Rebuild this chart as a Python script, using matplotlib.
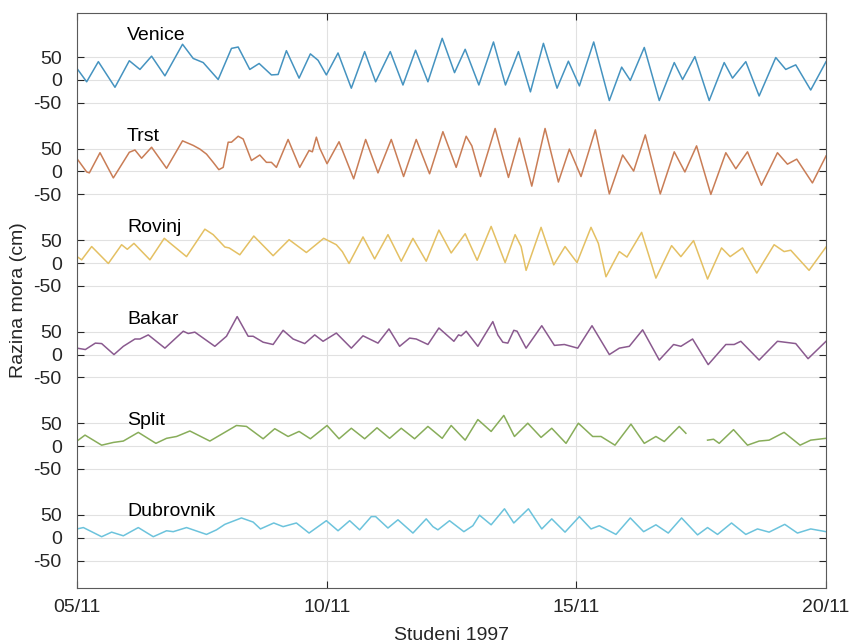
import numpy as np
import matplotlib
matplotlib.use('Agg')
import matplotlib.pyplot as plt

plt.rcParams['font.family'] = ['Liberation Sans', 'DejaVu Sans']

# Postaje, pomak svake krivulje (cm) i boje
stations = ['Venice', 'Trst', 'Rovinj', 'Bakar', 'Split', 'Dubrovnik']
offsets = [1000, 800, 600, 400, 200, 0]
label_heights = [98, 77, 77, 76, 55, 58]
colors = ['#4593c0', '#c97d56', '#e4c063', '#8a5a8f', '#88ad5a', '#6cc3dc']

# Vrijeme u danima od 05/11 00:00, razina mora u cm
venice_t = [0.0, 0.193, 0.427, 0.76, 1.047, 1.26, 1.493, 1.76, 2.113, 2.327, 2.527, 2.827,
            3.093, 3.227, 3.46, 3.647, 3.893, 4.027, 4.193, 4.447, 4.673, 4.827, 4.993, 5.227,
            5.493, 5.76, 5.98, 6.273, 6.527, 6.78, 7.027, 7.313, 7.56, 7.773, 8.047, 8.34,
            8.58, 8.84, 9.08, 9.34, 9.613, 9.84, 10.06, 10.347, 10.66, 10.907, 11.08, 11.36,
            11.66, 11.96, 12.127, 12.373, 12.66, 12.96, 13.127, 13.393, 13.66, 13.993, 14.193,
            14.393, 14.693, 15.0]
venice_cm = [25, -4, 40, -16, 42, 23, 52, 9, 78, 47, 38, 1,
             69, 72, 23, 36, 11, 12, 64, 4, 57, 43, 11, 59,
             -18, 62, -4, 62, -11, 65, -4, 91, 16, 67, -11, 83,
             -11, 62, -26, 80, -18, 41, -13, 83, -45, 28, -1, 71,
             -45, 38, 1, 51, -45, 38, 4, 40, -35, 49, 23,
             33, -22, 40]

trst_t = [0.0, 0.193, 0.247, 0.46, 0.727, 1.047, 1.16, 1.293, 1.493, 1.793, 2.113, 2.327,
          2.46, 2.593, 2.727, 2.84, 2.927, 3.027, 3.093, 3.227, 3.327, 3.493, 3.66, 3.793,
          3.893, 3.993, 4.227, 4.46, 4.647, 4.713, 4.793, 4.86, 5.007, 5.247, 5.54, 5.78,
          6.027, 6.293, 6.54, 6.793, 7.06, 7.327, 7.593, 7.793, 7.907, 8.08, 8.373, 8.64,
          8.86, 9.107, 9.373, 9.64, 9.86, 10.093, 10.38, 10.66, 10.927, 11.147, 11.38, 11.68,
          11.96, 12.173, 12.407, 12.693, 12.993, 13.193, 13.427, 13.707, 14.027, 14.227,
          14.413, 14.727, 15.0]
trst_cm = [28, -1, -3, 41, -14, 42, 47, 29, 53, 7, 67, 57,
           49, 38, 20, 4, 9, 64, 64, 77, 71, 24, 36, 20,
           20, 9, 70, 9, 46, 43, 75, 51, 17, 65, -16, 70,
           -3, 70, -11, 70, -5, 87, 9, 77, 56, -11, 94, -13,
           73, -32, 94, -23, 49, -11, 91, -49, 36, 1, 80, -49,
           43, -1, 56, -50, 41, 6, 43, -30, 41, 16,
           27, -25, 34]

rovinj_t = [0.0, 0.093, 0.293, 0.627, 0.893, 1.007, 1.14, 1.46, 1.747, 2.193, 2.56, 2.727,
            2.96, 3.047, 3.26, 3.54, 3.927, 4.247, 4.593, 4.94, 5.193, 5.313, 5.447, 5.727,
            5.96, 6.227, 6.493, 6.727, 6.993, 7.247, 7.493, 7.773, 8.013, 8.293, 8.573, 8.773,
            8.893, 8.993, 9.293, 9.547, 9.773, 10.013, 10.293, 10.44, 10.593, 10.86, 11.013,
            11.307, 11.593, 11.907, 12.093, 12.347, 12.627, 12.907, 13.08, 13.327, 13.613,
            13.96, 14.16, 14.293, 14.66, 15.0]
rovinj_cm = [14, 7, 36, -1, 40, 30, 43, 7, 54, 14, 74, 62,
             35, 33, 18, 59, 16, 51, 23, 54, 40, 25, -1, 57,
             9, 62, 4, 54, 4, 72, 22, 64, 6, 80, 1, 62,
             36, -16, 78, -4, 36, 1, 78, 43, -30, 25, 13,
             67, -33, 38, 14, 49, -35, 33, 14, 33, -22,
             40, 25, 28, -16, 35]

bakar_t = [0.0, 0.167, 0.367, 0.493, 0.74, 0.927, 1.16, 1.26, 1.427, 1.76, 2.127, 2.227,
           2.36, 2.76, 2.993, 3.207, 3.427, 3.527, 3.727, 3.927, 4.127, 4.327, 4.56, 4.76,
           4.927, 5.193, 5.493, 5.727, 6.027, 6.247, 6.46, 6.66, 6.793, 7.027, 7.247, 7.547,
           7.64, 7.693, 7.793, 8.027, 8.327, 8.427, 8.527, 8.627, 8.747, 8.813, 8.993, 9.307,
           9.56, 9.76, 10.027, 10.313, 10.66, 10.86, 11.06, 11.327, 11.66, 11.947, 12.093,
           12.327, 12.64, 12.993, 13.16, 13.293, 13.66, 14.027, 14.393, 14.64, 15.0]
bakar_cm = [14, 11, 25, 24, 0, 18, 34, 34, 43, 14, 51, 46,
            49, 18, 40, 83, 40, 40, 27, 22, 53, 34, 24, 43,
            29, 47, 14, 41, 25, 56, 18, 36, 34, 22, 58, 29,
            43, 41, 51, 18, 72, 43, 27, 25, 53, 51, 14, 63,
            20, 22, 14, 63, 0, 14, 18, 54, -12, 22, 18,
            34, -22, 22, 22, 29, -12, 29, 24, -9, 29]

split_t = [0.0, 0.16, 0.493, 0.727, 0.927, 1.227, 1.58, 1.793, 1.993, 2.26, 2.66, 3.193,
           3.393, 3.727, 3.96, 4.227, 4.447, 4.673, 5.007, 5.247, 5.493, 5.76, 6.007, 6.26,
           6.493, 6.76, 7.027, 7.313, 7.493, 7.773, 8.027, 8.293, 8.547, 8.76, 9.027, 9.293,
           9.507, 9.793, 10.04, 10.327, 10.493, 10.773, 11.093, 11.36, 11.593, 11.76, 12.06,
           12.193, 12.4, 12.627, 12.747, 12.86, 13.147, 13.427, 13.66, 13.86, 14.16, 14.48,
           14.693, 15.0]
split_cm = [11, 24, 2, 8, 11, 30, 6, 17, 21, 33, 11, 45,
            43, 16, 38, 21, 32, 16, 45, 16, 39, 16, 40, 17,
            39, 16, 43, 17, 45, 13, 58, 32, 67, 21, 50, 19,
            39, 6, 50, 21, 21, 2, 48, 6, 21, 10, 43,
            28, np.nan, 13, 15, 6, 36, 2, 11, 13, 30, 2,
            13, 17]

dubrovnik_t = [0.0, 0.127, 0.493, 0.693, 0.927, 1.227, 1.527, 1.793, 1.927, 2.193, 2.593,
               2.793, 2.96, 3.293, 3.527, 3.673, 3.94, 4.127, 4.393, 4.647, 4.993, 5.227,
               5.46, 5.66, 5.893, 5.98, 6.227, 6.427, 6.727, 6.993, 7.127, 7.227, 7.46, 7.747,
               7.927, 8.06, 8.293, 8.56, 8.747, 9.04, 9.307, 9.507, 9.773, 10.06, 10.293,
               10.46, 10.793, 11.08, 11.347, 11.593, 11.84, 12.107, 12.427, 12.627, 12.827,
               13.107, 13.393, 13.627, 13.86, 14.173, 14.427, 14.693, 15.0]
dubrovnik_cm = [19, 22, 2, 12, 4, 22, 2, 15, 13, 22, 7,
                17, 29, 43, 34, 19, 32, 24, 32, 10, 37, 15,
                37, 17, 46, 46, 21, 39, 10, 41, 24, 17, 37, 13,
                26, 49, 28, 63, 32, 63, 19, 41, 12, 46, 19,
                26, 7, 43, 13, 28, 10, 43, 6, 22, 7,
                32, 7, 19, 12, 29, 10, 19, 13]

series_t = [venice_t, trst_t, rovinj_t, bakar_t, split_t, dubrovnik_t]
series_cm = [venice_cm, trst_cm, rovinj_cm, bakar_cm, split_cm, dubrovnik_cm]

xtick_days = [0, 5, 10, 15]
xtick_labels = ['05/11', '10/11', '15/11', '20/11']
ytick_levels = [-50, 0, 50]


def main():
    fig = plt.figure(figsize=(8.53, 6.44), dpi=100)
    ax = fig.add_axes([0.0903, 0.087, 0.8781, 0.8933])

    for name, off, lh, col, t, cm in zip(stations, offsets, label_heights, colors,
                                          series_t, series_cm):
        ax.plot(t, np.array(cm, dtype=float) + off, color=col, linewidth=1.1,
                solid_joinstyle='round')
        ax.text(1.0, off + lh, name, fontsize=14, color='black', va='center', ha='left')

    yticks = [off + lv for off in offsets for lv in ytick_levels]
    ylabels = [str(lv) for off in offsets for lv in ytick_levels]
    ax.set_yticks(yticks)
    ax.set_yticklabels(ylabels)
    ax.set_xticks(xtick_days)
    ax.set_xticklabels(xtick_labels)

    ax.set_xlim(0, 15)
    ax.set_ylim(-110, 1147)

    ax.grid(True, color='#e1e1e1', linewidth=0.8)
    ax.set_axisbelow(True)
    ax.tick_params(direction='in', top=True, right=True, length=5, width=0.8,
                   labelsize=14, colors='#262626')
    ax.tick_params(axis='x', pad=8)
    ax.tick_params(axis='y', pad=11)
    for sp in ax.spines.values():
        sp.set_color('#5a5a5a')
        sp.set_linewidth(0.8)

    ax.set_xlabel('Studeni 1997', fontsize=14, color='#262626', labelpad=8)
    ax.set_ylabel('Razina mora (cm)', fontsize=14, color='#262626', labelpad=5)

    fig.savefig('out.png', dpi=100)


if __name__ == "__main__":
    main()
